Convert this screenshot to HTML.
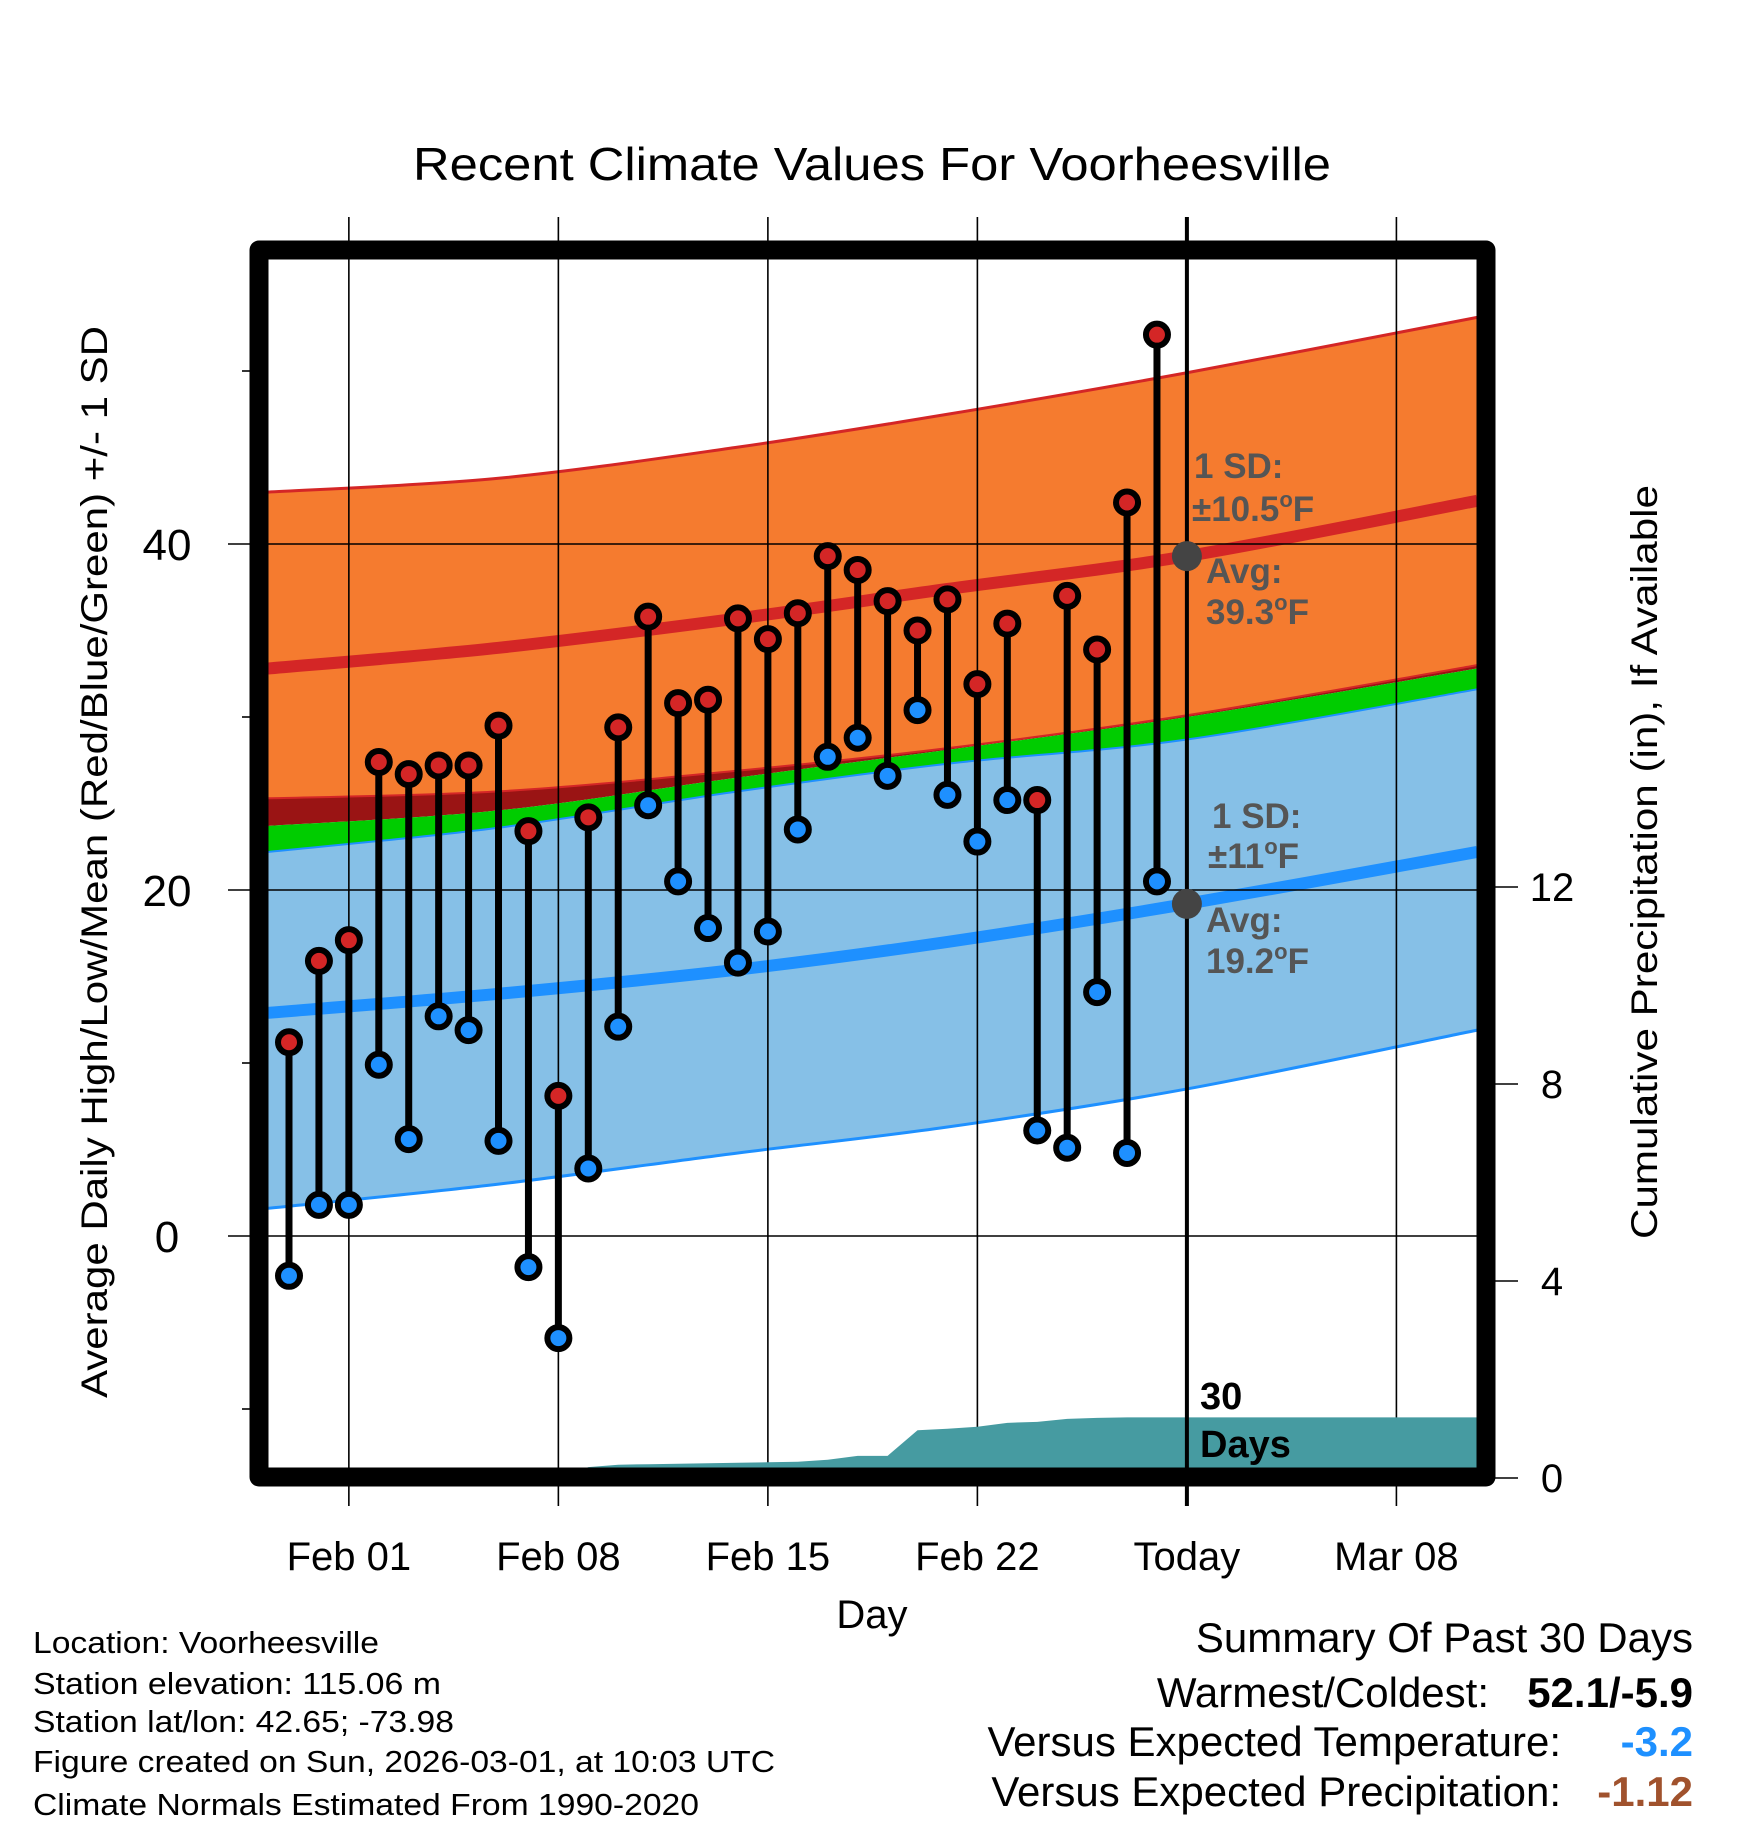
<!DOCTYPE html>
<html><head><meta charset="utf-8"><style>
html,body{margin:0;padding:0;background:#fff;}
svg{display:block;font-family:"Liberation Sans",Arial,sans-serif;}
</style></head><body>
<svg id="chart" width="1748" height="1828" viewBox="0 0 1748 1828" xmlns="http://www.w3.org/2000/svg">
<defs><clipPath id="plotclip"><rect x="268" y="260" width="1210" height="1208"/></clipPath></defs>
<text x="872" y="180" font-size="46" text-anchor="middle" textLength="918" lengthAdjust="spacingAndGlyphs">Recent Climate Values For Voorheesville</text>
<g id="bands" clip-path="url(#plotclip)"></g>
<g id="grid"></g>
<g id="precip" clip-path="url(#plotclip)"></g>
<g id="today"></g>
<g id="obs"></g>
<rect x="259" y="250" width="1227" height="1227" fill="none" stroke="#000" stroke-width="19" stroke-linejoin="round"/>
<g id="axes"></g>
<text x="872" y="1628" font-size="40" text-anchor="middle">Day</text>
<text transform="translate(107,862) rotate(-90)" font-size="37" text-anchor="middle" textLength="1072" lengthAdjust="spacingAndGlyphs">Average Daily High/Low/Mean (Red/Blue/Green) +/- 1 SD</text>
<text transform="translate(1657,862) rotate(-90)" font-size="37" text-anchor="middle" textLength="754" lengthAdjust="spacingAndGlyphs">Cumulative Precipitation (in), If Available</text>
<g font-size="31" fill="#000">
<text x="33" y="1653" textLength="346" lengthAdjust="spacingAndGlyphs">Location: Voorheesville</text>
<text x="33" y="1694" textLength="408" lengthAdjust="spacingAndGlyphs">Station elevation: 115.06 m</text>
<text x="33" y="1732" textLength="421" lengthAdjust="spacingAndGlyphs">Station lat/lon: 42.65; -73.98</text>
<text x="33" y="1772" textLength="742" lengthAdjust="spacingAndGlyphs">Figure created on Sun, 2026-03-01, at 10:03 UTC</text>
<text x="33" y="1815" textLength="666" lengthAdjust="spacingAndGlyphs">Climate Normals Estimated From 1990-2020</text>
</g>
<g font-size="42" text-anchor="end">
<text x="1693" y="1652">Summary Of Past 30 Days</text>
<text x="1489" y="1707">Warmest/Coldest:</text>
<text x="1693" y="1707" font-weight="bold">52.1/-5.9</text>
<text x="1561" y="1756">Versus Expected Temperature:</text>
<text x="1693" y="1756" font-weight="bold" fill="#1e90ff">-3.2</text>
<text x="1561" y="1806">Versus Expected Precipitation:</text>
<text x="1693" y="1806" font-weight="bold" fill="#a0522d">-1.12</text>
</g>
</svg>
<script>
// ---- data ----
const normDays = [-0.7, 7, 15, 22, 30, 39.7];
const highUpper = [43.0, 43.8, 45.6, 47.5, 49.9, 53.1];
const highMean = [32.8, 34.0, 35.7, 37.4, 39.3, 42.5];
const highLower = [25.3, 25.7, 26.9, 28.2, 30.1, 33.0];
const greenTop = [23.7, 24.6, 26.5, 28.1, 30.0, 32.8];
const lowUpper = [22.2, 23.6, 25.7, 27.3, 28.7, 31.6];
const lowMean = [12.9, 14.0, 15.4, 17.0, 19.2, 22.2];
const lowLower = [1.6, 3.0, 4.8, 6.3, 8.5, 11.9];
const highs = [11.2,15.9,17.1,27.4,26.7,27.2,27.2,29.5,23.4,8.1,24.2,29.4,35.8,30.8,31.0,35.7,34.5,36.0,39.3,38.5,36.7,35.0,36.8,31.9,35.4,25.2,37.0,33.9,42.4,52.1];
const lows = [-2.3,1.8,1.8,9.9,5.6,12.7,11.9,5.5,-1.8,-5.9,3.9,12.1,24.9,20.5,17.8,15.8,17.6,23.5,27.7,28.8,26.6,30.4,25.5,22.8,25.2,6.1,5.1,14.1,4.8,20.5];
const precipCum = [0,0,0,0,0,0,0,0,0,0,0.22,0.27,0.28,0.29,0.30,0.31,0.32,0.33,0.37,0.45,0.45,0.97,1.00,1.04,1.12,1.14,1.20,1.22,1.23,1.23,1.23];
const xTickDays = [2, 9, 16, 23, 30, 37];
const xTickLabels = ["Feb 01","Feb 08","Feb 15","Feb 22","Today","Mar 08"];
const yMajor = [0, 20, 40];
const yMinor = [-10, 10, 30, 50];
const pTicks = [0, 4, 8, 12];
const todayDay = 30;
const todayHigh = 39.3, todayLow = 19.2;

// ---- scales ----
const NS = "http://www.w3.org/2000/svg";
const X = d => 289 + 29.93 * d;
const Y = t => 1236 - 17.3 * t;
const P = p => 1478 - 49.25 * p;
function mk(tag, attrs, parent){ const el=document.createElementNS(NS,tag); for(const k in attrs) el.setAttribute(k,attrs[k]); parent.appendChild(el); return el; }
function curvePts(vals){ const pts=[]; for(let i=0;i<normDays.length;i++) pts.push([X(normDays[i]),Y(vals[i])]); return pts; }
function segs(pts){
  let s="";
  for(let i=0;i<pts.length-1;i++){
    const p0=pts[Math.max(0,i-1)],p1=pts[i],p2=pts[i+1],p3=pts[Math.min(pts.length-1,i+2)];
    s+=" C"+(p1[0]+(p2[0]-p0[0])/6)+","+(p1[1]+(p2[1]-p0[1])/6)+" "+(p2[0]-(p3[0]-p1[0])/6)+","+(p2[1]-(p3[1]-p1[1])/6)+" "+p2[0]+","+p2[1];
  }
  return s;
}
function smooth(pts){ return "M"+pts[0][0]+","+pts[0][1]+segs(pts); }
function bandPath(top,bot){
  const t=curvePts(top), b=curvePts(bot).reverse();
  return smooth(t)+" L"+b[0][0]+","+b[0][1]+segs(b)+" Z";
}
const bands=document.getElementById("bands");
let e;
e=mk("path",{d:bandPath(highUpper,highLower),fill:"#f57b2f"},bands);


e=mk("path",{d:bandPath(highLower,greenTop),fill:"#9a1414"},bands);


e=mk("path",{d:bandPath(greenTop,lowUpper),fill:"#00cc00"},bands);


e=mk("path",{d:bandPath(lowUpper,lowLower),fill:"#86c0e7"},bands);


e=mk("path",{d:smooth(curvePts(highUpper)),fill:"none",stroke:"#d42626","stroke-width":3},bands);


e=mk("path",{d:smooth(curvePts(highLower)),fill:"none",stroke:"#d42626","stroke-width":2},bands);


e=mk("path",{d:smooth(curvePts(lowUpper)),fill:"none",stroke:"#1e90ff","stroke-width":2},bands);


e=mk("path",{d:smooth(curvePts(lowLower)),fill:"none",stroke:"#1e90ff","stroke-width":3},bands);


e=mk("path",{d:smooth(curvePts(highMean)),fill:"none",stroke:"#d42626","stroke-width":12},bands);


e=mk("path",{d:smooth(curvePts(lowMean)),fill:"none",stroke:"#1e90ff","stroke-width":12},bands);



// grid
const grid=document.getElementById("grid");
xTickDays.forEach((d,i)=>{ if(d===todayDay) return;
  e=mk("line",{x1:X(d),x2:X(d),y1:217,y2:1506,stroke:"#000","stroke-width":1.6},grid);
  
  
});
yMajor.forEach(t=>{
  e=mk("line",{x1:228,x2:1478,y1:Y(t),y2:Y(t),stroke:"#000","stroke-width":1.6},grid);
  
  
});

// precip
const pg=document.getElementById("precip");
let pd="M"+X(0)+","+P(0);
precipCum.forEach((p,i)=>{ pd+=" L"+X(i)+","+P(p); });
pd+=" L1478,"+P(precipCum[precipCum.length-1])+" L1478,"+P(0)+" Z";
e=mk("path",{d:pd,fill:"#469ba1"},pg);



// today
const tg=document.getElementById("today");
e=mk("line",{x1:X(todayDay),x2:X(todayDay),y1:217,y2:1506,stroke:"#000","stroke-width":4},tg);


e=mk("circle",{cx:X(todayDay),cy:Y(todayHigh),r:15,fill:"#444"},tg);


e=mk("circle",{cx:X(todayDay),cy:Y(todayLow),r:15,fill:"#444"},tg);


const ann=[["1 SD:","",1194,478,"high-sd-label"],["±10.5","F",1192,521,"high-sd-value"],["Avg:","",1206,583,"high-avg-label"],["39.3","F",1206,624,"high-avg-value"],
["1 SD:","",1212,828,"low-sd-label"],["±11","F",1208,868,"low-sd-value"],["Avg:","",1206,932,"low-avg-label"],["19.2","F",1206,973,"low-avg-value"]];
ann.forEach(a=>{
  e=mk("text",{x:a[2],y:a[3],"font-size":35,"font-weight":"bold",fill:"#555"},tg);
  
  
  e.appendChild(document.createTextNode(a[0]));
  if(a[1]){
    const s=mk("tspan",{dy:-14,"font-size":22},e); s.textContent="o";
    const f=mk("tspan",{dy:14,"font-size":35},e); f.textContent=a[1];
  }
});
e=mk("text",{x:1200,y:1409,"font-size":38,"font-weight":"bold",fill:"#000"},tg);
e.textContent="30";


e=mk("text",{x:1200,y:1457,"font-size":38,"font-weight":"bold",fill:"#000"},tg);
e.textContent="Days";



// observations
const og=document.getElementById("obs");
highs.forEach((h,i)=>{
  e=mk("line",{x1:X(i),x2:X(i),y1:Y(h),y2:Y(lows[i]),stroke:"#000","stroke-width":7},og);
  
  
});
highs.forEach((h,i)=>{
  e=mk("circle",{cx:X(i),cy:Y(h),r:11,fill:"#d42626",stroke:"#000","stroke-width":6},og);
  
  
  e=mk("circle",{cx:X(i),cy:Y(lows[i]),r:11,fill:"#1e90ff",stroke:"#000","stroke-width":6},og);
  
  
});

// axes
const ax=document.getElementById("axes");
yMajor.forEach(t=>{
  e=mk("text",{x:167,y:Y(t)+16,"font-size":44,"text-anchor":"middle"},ax);
  e.textContent=String(t);
  
  
});
yMinor.forEach(t=>{
  e=mk("line",{x1:242,x2:252,y1:Y(t),y2:Y(t),stroke:"#000","stroke-width":1.6},ax);
  
  
});
pTicks.forEach(p=>{
  e=mk("line",{x1:1494,x2:1518,y1:P(p),y2:P(p),stroke:"#000","stroke-width":1.6},ax);
  
  
  e=mk("text",{x:1552,y:P(p)+14,"font-size":40,"text-anchor":"middle"},ax);
  e.textContent=String(p);
  
  
});
xTickDays.forEach((d,i)=>{
  e=mk("text",{x:X(d),y:1570,"font-size":40,"text-anchor":"middle"},ax);
  e.textContent=xTickLabels[i];
  
  
});
</script>
</body></html>
